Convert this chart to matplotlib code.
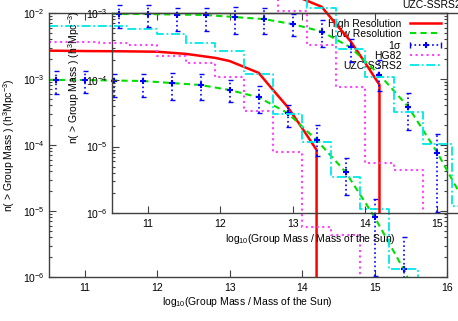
import numpy as np
import matplotlib.pyplot as plt
from matplotlib.patches import Rectangle
from matplotlib.lines import Line2D
from matplotlib.legend_handler import HandlerBase
from matplotlib.ticker import MultipleLocator, NullLocator, LogLocator

plt.rcParams['font.family'] = ['Liberation Sans', 'DejaVu Sans']
plt.rcParams['font.size'] = 7.5
plt.rcParams['mathtext.fontset'] = 'custom'
plt.rcParams['mathtext.rm'] = 'Liberation Sans'
plt.rcParams['mathtext.default'] = 'regular'

# high resolution (red)
hi_mass = [10.5, 11.0, 11.5, 12.0, 12.4, 12.8, 13.0, 13.4, 13.6, 13.8, 14.0, 14.2, 14.2]
hi_n = [2.69e-3, 2.65e-3, 2.63e-3, 2.59e-3, 2.40e-3, 2.09e-3, 1.87e-3, 1.24e-3,
        6.8e-4, 3.77e-4, 1.81e-4, 8.4e-5, 1e-8]

# low resolution (green) with 1 sigma errors
lo_mass = [10.5, 10.6, 11.0, 11.4, 11.8, 12.2, 12.6, 13.0, 13.4, 13.8, 14.2, 14.6, 15.0, 15.4, 15.6]
lo_n = [9.7e-4, 9.66e-4, 9.66e-4, 9.48e-4, 9.33e-4, 8.69e-4, 8.11e-4, 6.81e-4,
        5.28e-4, 3.05e-4, 1.19e-4, 3.90e-5, 8.1e-6, 1.32e-6, 4.5e-7]
err_mass = [10.6, 11.0, 11.4, 11.8, 12.2, 12.6, 13.0, 13.4, 13.8, 14.2, 14.6, 15.0, 15.4]
err_n = lo_n[1:-1]
err_hi = [1.34e-3, 1.34e-3, 1.19e-3, 1.19e-3, 1.23e-3, 1.19e-3, 9.66e-4,
          7.83e-4, 4.04e-4, 2.01e-4, 6.35e-5, 1.52e-5, 4.04e-6]
err_lo = [5.86e-4, 6.07e-4, 5.33e-4, 5.33e-4, 4.81e-4, 4.81e-4, 4.49e-4,
          3.05e-4, 1.87e-4, 6.81e-5, 1.75e-5, 1.04e-6, 1e-7]

# HG82 (magenta)
hg_edges = [10.5, 11.2, 11.6, 12.0, 12.4, 12.8, 13.2, 13.6, 14.0, 14.4, 14.8]
hg_n = [3.67e-3, 3.55e-3, 3.27e-3, 2.23e-3, 1.73e-3, 1.08e-3, 3.3e-4, 7.8e-5, 5.7e-6, 4.4e-6]

# UZC-SSRS2 (cyan)
uz_edges = [10.5, 11.6, 12.0, 12.4, 12.8, 13.2, 13.6, 14.0, 14.4, 14.8, 15.2, 15.6]
uz_n = [6.4e-3, 5.7e-3, 4.85e-3, 3.57e-3, 2.68e-3, 1.17e-3, 2.9e-4, 1.1e-4,
        3.25e-5, 1.08e-5, 1.3e-6]

labels = ['High Resolution', 'Low Resolution', r'1$\sigma$', 'HG82', 'UZC-SSRS2']
ylab = r'n( > Group Mass ) (h$^3$Mpc$^{-3}$)'
xlab = r'log$_{10}$(Group Mass / Mass of the Sun)'


def draw(ax):
    arts = []
    arts += ax.plot(hi_mass, hi_n, color='red', lw=1.8)
    arts += ax.plot(lo_mass, lo_n, color='#00e000', lw=1.5, ls=(0, (3, 2)))
    yerr = [np.array(err_n) - np.array(err_lo), np.array(err_hi) - np.array(err_n)]
    eb = ax.errorbar(err_mass, err_n, yerr=yerr, fmt='none', ecolor='blue',
                     elinewidth=1.2, capsize=1.8, capthick=1.0)
    eb[2][0].set_linestyle(':')
    arts += list(eb[1]) + list(eb[2])
    arts += ax.plot(err_mass, err_n, ls='none', marker='+', ms=4, mew=1.5, color='blue')
    arts += ax.step(hg_edges, hg_n + [1e-9], where='post', color='#ff40ff', lw=1.5, ls=':')
    arts += ax.step(uz_edges, uz_n + [1e-9], where='post', color='#00e8e8', lw=1.3,
                    ls=(0, (5, 1.5, 1, 1.5)))
    return arts


def style(ax, top=True):
    ax.set_yscale('log')
    ax.set_xlim(10.5, 16)
    ax.xaxis.set_major_locator(MultipleLocator(1))
    ax.xaxis.set_minor_locator(NullLocator())
    ax.yaxis.set_major_locator(LogLocator(base=10))
    ax.yaxis.set_minor_locator(LogLocator(base=10, subs=np.arange(2, 10)))
    ax.tick_params(which='both', direction='in', top=top, right=True,
                   color='#404040', width=0.8, pad=4)
    ax.tick_params(which='major', length=5)
    ax.tick_params(which='minor', length=2.5)
    ax.tick_params(axis='y', which='major', pad=3)
    for s in ax.spines.values():
        s.set_color('#404040')
        s.set_linewidth(1.0)


class ErrHandler(HandlerBase):
    def create_artists(self, legend, orig, xd, yd, w, h, fontsize, trans):
        y = h / 2 - yd
        x0, x1 = -xd, -xd + w
        a = Line2D([x0, x1], [y, y], color='blue', ls=':', lw=1.2)
        b = Line2D([x0, x1], [y, y], ls='none', marker='|', ms=4, mew=1.0, color='blue')
        c = Line2D([(x0 + x1) / 2], [y], ls='none', marker='+', ms=4, mew=1.5, color='blue')
        for t in (a, b, c):
            t.set_transform(trans)
        return [a, b, c]


fig = plt.figure(figsize=(4.58, 3.21), dpi=100)
ax = fig.add_axes([48.5 / 458, 44 / 321, 398.5 / 458, 264 / 321])
style(ax)
ax.set_ylim(1e-6, 1e-2)
draw(ax)
ax.set_xlabel(xlab, labelpad=2)
ax.set_ylabel(ylab)
ax.yaxis.set_label_coords(-0.079, 0.5)

err_proxy = Line2D([], [])
handles = [Line2D([], [], color='red', lw=1.8),
           Line2D([], [], color='#00e000', lw=1.5, ls=(0, (3, 2))),
           err_proxy,
           Line2D([], [], color='#ff40ff', lw=1.5, ls=':'),
           Line2D([], [], color='#00e8e8', lw=1.3, ls=(0, (5, 1.5, 1, 1.5)))]
ax.legend(handles, labels, loc='upper right', frameon=False, markerfirst=False,
          handlelength=3.0, handletextpad=0.8, labelspacing=0.0,
          borderaxespad=0.15, handler_map={err_proxy: ErrHandler()})

ins = fig.add_axes([112 / 458, 107.7 / 321, 397.6 / 458, 200.3 / 321])
ins.set_facecolor('none')
style(ins, top=False)
ins.set_ylim(1e-6, 1e-3)
clip = Rectangle((0, 0), 1, 1.2, transform=ins.transAxes)
for art in draw(ins):
    art.set_clip_path(clip)
ins.set_xlabel(xlab, labelpad=2)
ins.set_ylabel(ylab)
ins.yaxis.set_label_coords(-0.0755, 0.68)

fig.text(402 / 458, 1 - 5 / 321, 'UZC-SSRS2', ha='left', va='center')

plt.savefig('out.png', dpi=100)
